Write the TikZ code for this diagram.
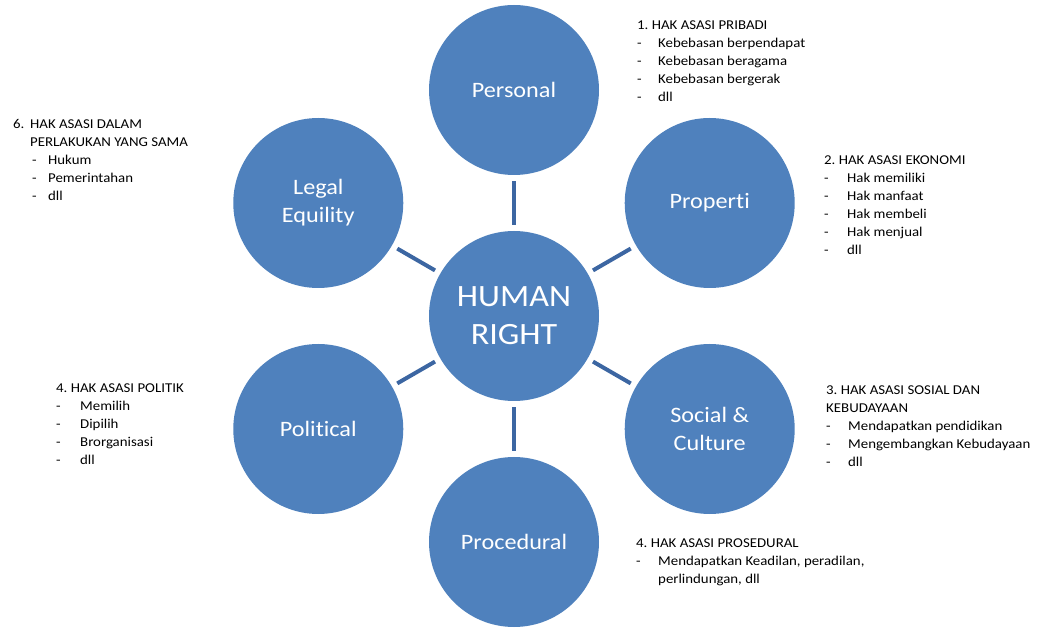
\documentclass[tikz,border=0pt]{standalone}
\usepackage{fontspec}
\setmainfont{Carlito}[FakeStretch=1.1, Ligatures=NoCommon]
\usepackage{xcolor}
\usetikzlibrary{positioning, calc}
\definecolor{right-blue}{HTML}{4F81BD}
\definecolor{edge-blue}{HTML}{3C66A2}
\newcommand{\itemdash}[1][21pt]{\makebox[#1][l]{-}}
\frenchspacing
\tikzset{
	every node/.style={
		align=center,
	},
	right-node/.style={
		circle,
		fill=right-blue,
		minimum size=170pt,
		inner sep=0pt,
		text=white,
		font=\fontsize{22}{28}\selectfont,
	},
	center-node/.style={
		right-node,
		font=\fontsize{31}{38}\selectfont,
	},
	note-node/.style={
		anchor=north west,
		inner sep=0pt,
		align=left,
		font=\fontsize{13.5}{18}\selectfont,
	},
	edge-style/.style = {edge-blue, line width=4pt, shorten <=6pt, shorten >=6pt},
}
\begin{document}
\begin{tikzpicture}[x=1pt,y=1pt]
	\useasboundingbox (0,0) rectangle (1045,630);
	\node (hr) [center-node] at (514,314) {HUMAN\\RIGHT};
	\node (per) [right-node] at ($(hr)+(90:226)$) {Personal};
	\node (pro) [right-node] at ($(hr)+(30:226)$) {Properti};
	\node (soc) [right-node] at ($(hr)+(-30:226)$) {Social \&\\Culture};
	\node (prd) [right-node] at ($(hr)+(-90:226)$) {Procedural};
	\node (pol) [right-node] at ($(hr)+(210:226)$) {Political};
	\node (leg) [right-node] at ($(hr)+(150:226)$) {Legal\\Equility};
	\foreach \n in {per,pro,soc,prd,pol,leg}
		\draw[edge-style] (hr) -- (\n);
	% notes
	\node (n-per) [note-node] at (637,609.7) {1. HAK ASASI PRIBADI\\
		\itemdash Kebebasan berpendapat\\
		\itemdash Kebebasan beragama\\
		\itemdash Kebebasan bergerak\\
		\itemdash dll};
	\node (n-pro) [note-node] at (824,474.7) {2. HAK ASASI EKONOMI\\
		\itemdash[23pt]Hak memiliki\\
		\itemdash[23pt]Hak manfaat\\
		\itemdash[23pt]Hak membeli\\
		\itemdash[23pt]Hak menjual\\
		\itemdash[23pt]dll};
	\node (n-soc) [note-node] at (826,244.7) {3. HAK ASASI SOSIAL DAN\\
		KEBUDAYAAN\\
		\itemdash[22pt]Mendapatkan pendidikan\\
		\itemdash[22pt]Mengembangkan Kebudayaan\\
		\itemdash[22pt]dll};
	\node (n-prd) [note-node] at (636,91.7) {4. HAK ASASI PROSEDURAL\\
		\itemdash[22pt]Mendapatkan Keadilan, peradilan,\\
		\hspace*{22pt}perlindungan, dll};
	\node (n-pol) [note-node] at (56,246.7) {4. HAK ASASI POLITIK\\
		\itemdash[24pt]Memilih\\
		\itemdash[24pt]Dipilih\\
		\itemdash[24pt]Brorganisasi\\
		\itemdash[24pt]dll};
	\node (n-leg) [note-node] at (13,510.7) {\makebox[17pt][l]{6.}HAK ASASI DALAM\\
		\hspace*{17pt}PERLAKUKAN YANG SAMA\\
		\hspace*{19pt}\itemdash[16pt]Hukum\\
		\hspace*{19pt}\itemdash[16pt]Pemerintahan\\
		\hspace*{19pt}\itemdash[16pt]dll};
\end{tikzpicture}
\end{document}
